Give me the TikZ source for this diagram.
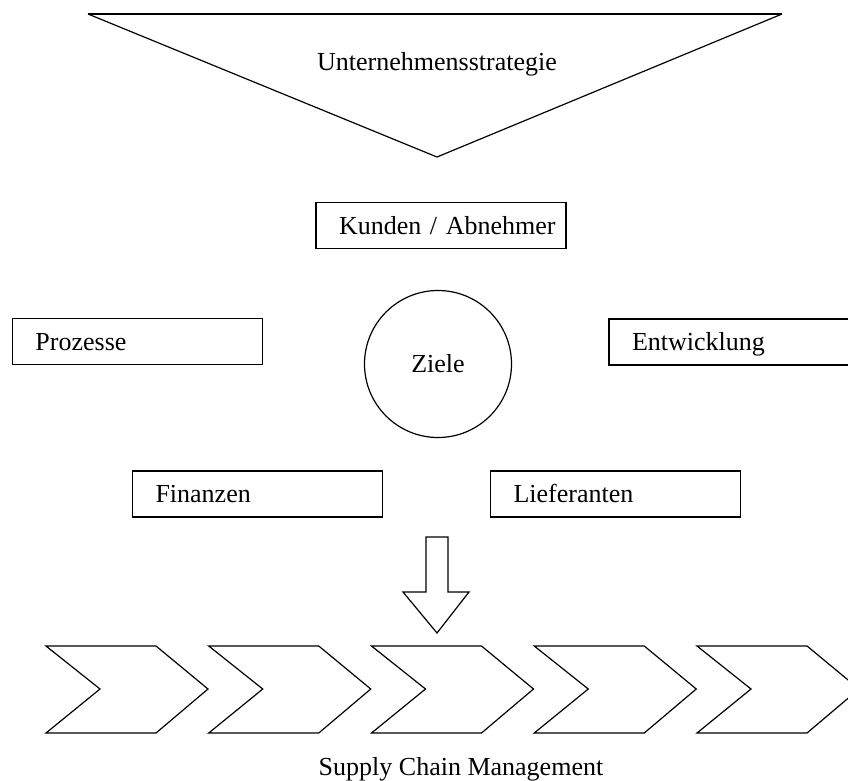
\documentclass[tikz,border=0pt]{standalone}
\usepackage{fontspec}
\setmainfont{Liberation Serif}
\usepackage{tikz}
\begin{document}
\begin{tikzpicture}[x=1pt, y=-1pt, line width=1.2pt,
  txt/.style={font=\fontsize{26}{30}\selectfont},
  field/.style={txt, draw, rectangle, minimum width=250pt, minimum height=46pt,
    text width=250pt, inner xsep=0pt, align=left, text height=20pt, text depth=3pt,
    execute at begin node={\hspace*{23pt}}},
  goal/.style={txt, draw, circle, minimum size=147pt, inner sep=0pt}]
  \clip (0,0) rectangle (848,780);
  % strategy funnel
  \draw (88,14) -- (437,157) -- (782,14);
  \draw[line width=2.2pt] (88,14) -- (782,14);
  \node[txt, anchor=base] (strategie) at (437,70) {Unternehmensstrategie};
  % fields round the goals
  \node[field] (kunden) at (441,225.5) {Kunden / Abnehmer};
  \node[field] (prozesse) at (137.5,341.5) {Prozesse};
  \node[field] (entwicklung) at (734,342) {Entwicklung};
  \node[goal] (ziele) at (438,364) {Ziele};
  \node[field] (finanzen) at (257.5,494) {Finanzen};
  \node[field] (lieferanten) at (615.5,494) {Lieferanten};
  % block arrow down
  \draw (426,537) -- (426,592) -- (403,592) -- (437,633) -- (469,592)
    -- (448,592) -- (448,537) -- cycle;
  % value chain
  \foreach \i in {0,...,4}
    \draw[shift={(46+\i*162.75,0)}] (0,646) -- (110,646) -- (162,689)
      -- (110,733) -- (0,733) -- (54,689) -- cycle;
  \node[txt, anchor=base] (scm) at (461,775) {Supply Chain Management};
\end{tikzpicture}
\end{document}
